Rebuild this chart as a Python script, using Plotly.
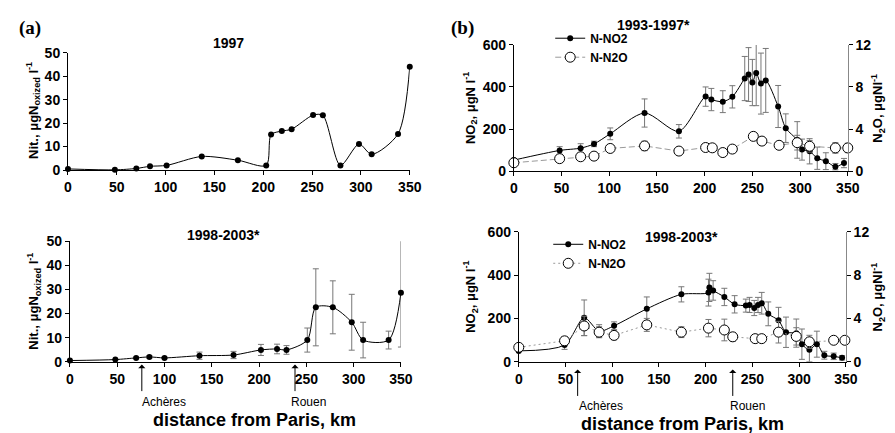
import plotly.graph_objects as go

# (a) nitrite, 1997
km_a97 = [0, 48, 70, 84, 101, 137, 174, 203, 208, 219, 229, 251, 261, 279, 298, 311, 338, 350]
nit_a97 = [0.5, 0.1, 0.7, 1.6, 2.0, 5.8, 4.2, 2.0, 15.1, 16.6, 17.4, 23.4, 23.3, 2.0, 11.1, 6.7, 15.4, 44.0]

# (a) nitrite, 1998-2003
km_a98 = [0, 48, 70, 84, 100, 137, 173, 202, 219, 229, 251, 260, 278, 298, 310, 337, 350]
nit_a98 = [0.5, 0.9, 1.6, 2.0, 1.6, 2.5, 2.8, 4.9, 5.3, 4.9, 9.0, 22.6, 22.6, 16.4, 9.0, 9.0, 28.6]
nit_a98_err = [0, 0, 0.3, 0.5, 0.3, 1.5, 1.5, 2.3, 2.0, 1.8, 5.0, 16.0, 11.0, 11.6, 7.4, 3.7, 22.5]

# (b) 1993-1997
km_no2_93 = [0, 48, 70, 84, 101, 137, 173, 201, 207, 219, 229, 242, 246, 250, 254, 259, 264,
             277, 285, 297, 302, 310, 318, 327, 337, 346]
no2_93 = [52, 98, 109, 129, 177, 276, 189, 354, 340, 330, 353, 440, 459, 421, 466, 416, 431,
          307, 204, 148, 102, 94, 61, 47, 21, 38]
no2_93_err = [0, 18, 21, 13, 28, 67, 32, 46, 53, 52, 53, 105, 128, 110, 155, 145, 152,
              100, 68, 87, 50, 60, 53, 40, 15, 22]
km_n2o_93 = [0, 48, 70, 84, 101, 137, 173, 201, 208, 219, 229, 251, 260, 278, 297, 310, 337, 350]
n2o_93 = [0.79, 1.18, 1.36, 1.42, 2.15, 2.39, 1.9, 2.24, 2.21, 1.76, 2.09, 3.3, 2.85, 2.45, 2.7, 2.36, 2.2, 2.2]
n2o_93_err = [0, 0, 0, 0, 0, 0.45, 0, 0, 0, 0, 0, 0, 0, 0.3, 0.7, 0.55, 0.5, 0.45]

# (b) 1998-2003
km_no2_98 = [0, 49, 70, 86, 102, 137, 174, 203, 204, 208, 220, 231, 243, 247, 252, 256, 260, 267,
             278, 286, 297, 303, 311, 319, 327, 337, 346]
no2_98 = [50, 77, 203, 141, 166, 244, 311, 319, 343, 329, 299, 265, 259, 262, 248, 262, 270, 221,
          191, 136, 132, 81, 55, 81, 30, 25, 18]
no2_98_err = [0, 20, 82, 30, 18, 55, 35, 62, 65, 45, 40, 40, 30, 35, 35, 35, 50, 55,
              60, 70, 65, 70, 55, 60, 18, 15, 10]
km_n2o_98 = [0, 49, 70, 86, 102, 137, 174, 203, 220, 229, 253, 260, 278, 297, 311, 337, 349]
n2o_98 = [1.33, 1.93, 3.3, 2.73, 2.43, 3.4, 2.73, 3.1, 2.93, 2.3, 2.13, 2.13, 2.73, 2.34, 1.84, 1.98, 1.98]
n2o_98_err = [0, 0.4, 0.9, 0.5, 0.4, 0.6, 0.5, 0.8, 1.0, 0.4, 0, 0, 1.0, 0.8, 0.6, 0.3, 0]

W, H = 895, 433
FONT = "Arial, Liberation Sans, sans-serif"


def px(x):
    return x / W


def py(y):
    return 1 - y / H


def err(arr, color="#777"):
    return dict(type="data", array=arr, visible=True, color=color, thickness=1, width=3)


fig = go.Figure()

# panel (a)
fig.add_trace(go.Scatter(x=km_a97, y=nit_a97, mode="lines+markers", line=dict(color="black", width=1, shape="spline", smoothing=0.8),
                         marker=dict(color="black", size=6), showlegend=False, cliponaxis=False, xaxis="x", yaxis="y"))
fig.add_trace(go.Scatter(x=km_a98, y=nit_a98, mode="lines+markers", line=dict(color="black", width=1, shape="spline", smoothing=0.8),
                         marker=dict(color="black", size=6), error_y=err(nit_a98_err), showlegend=False, cliponaxis=False,
                         xaxis="x2", yaxis="y2"))

# panel (b) top
fig.add_trace(go.Scatter(x=km_no2_93, y=no2_93, mode="lines+markers", name="N-NO2",
                         line=dict(color="black", width=1, shape="spline", smoothing=0.8),
                         marker=dict(color="black", size=6), error_y=err(no2_93_err), cliponaxis=False,
                         xaxis="x3", yaxis="y3", legend="legend"))
fig.add_trace(go.Scatter(x=km_n2o_93, y=n2o_93, mode="lines+markers", name="N-N2O",
                         line=dict(color="#999", width=1, dash="6px,3px"),
                         marker=dict(color="white", size=10, line=dict(color="black", width=1)),
                         error_y=err(n2o_93_err), cliponaxis=False, xaxis="x3", yaxis="y4", legend="legend"))

# panel (b) bottom
fig.add_trace(go.Scatter(x=km_no2_98, y=no2_98, mode="lines+markers", name="N-NO2",
                         line=dict(color="black", width=1, shape="spline", smoothing=0.8),
                         marker=dict(color="black", size=6), error_y=err(no2_98_err), cliponaxis=False,
                         xaxis="x4", yaxis="y5", legend="legend2"))
fig.add_trace(go.Scatter(x=km_n2o_98, y=n2o_98, mode="lines+markers", name="N-N2O",
                         line=dict(color="#999", width=1, dash="2px,3px"),
                         marker=dict(color="white", size=10, line=dict(color="black", width=1)),
                         error_y=err(n2o_98_err), cliponaxis=False, xaxis="x4", yaxis="y6", legend="legend2"))

tickf = dict(family=FONT, size=14, color="black", weight="bold")
xcommon = dict(range=[0, 350], tickvals=[0, 50, 100, 150, 200, 250, 300, 350], showline=True, linecolor="black",
               ticks="outside", ticklen=4, tickcolor="black", showgrid=False, zeroline=False, tickfont=tickf)
ycommon = dict(showline=True, linecolor="black", ticks="outside", ticklen=4, tickcolor="black",
               showgrid=False, zeroline=False, tickfont=tickf)

fig.update_layout(
    width=W, height=H, margin=dict(l=0, r=0, t=0, b=0),
    plot_bgcolor="white", paper_bgcolor="white",
    font=dict(family=FONT, color="black"),
    xaxis=dict(xcommon, domain=[px(57), px(405)], anchor="y"),
    yaxis=dict(ycommon, domain=[py(160), py(38)], range=[0, 50], dtick=10, anchor="x"),
    xaxis2=dict(xcommon, domain=[px(59), px(396)], anchor="y2"),
    yaxis2=dict(ycommon, domain=[py(359), py(234)], range=[0, 50], dtick=10, anchor="x2"),
    xaxis3=dict(xcommon, domain=[px(511), px(851)], anchor="y3"),
    yaxis3=dict(ycommon, domain=[py(161), py(30)], range=[0, 600], dtick=200, anchor="x3"),
    yaxis4=dict(ycommon, range=[0, 12], dtick=4, overlaying="y3", side="right", anchor="x3", linecolor="#888"),
    xaxis4=dict(xcommon, domain=[px(516), px(849)], anchor="y5"),
    yaxis5=dict(ycommon, domain=[py(359), py(224)], range=[0, 600], dtick=200, anchor="x4"),
    yaxis6=dict(ycommon, range=[0, 12], dtick=4, overlaying="y5", side="right", anchor="x4", linecolor="#888"),
    legend=dict(x=px(548), y=py(8), xanchor="left", yanchor="top", bgcolor="rgba(0,0,0,0)",
                font=dict(family=FONT, size=12, weight="bold"), tracegroupgap=0, itemwidth=30),
    legend2=dict(x=px(546), y=py(222), xanchor="left", yanchor="top", bgcolor="rgba(0,0,0,0)",
                 font=dict(family=FONT, size=12, weight="bold"), tracegroupgap=0, itemwidth=30),
)

ann = []


def label(text, x, y, size=14, bold=True, angle=0, family=FONT):
    ann.append(dict(text=text, x=px(x), y=py(y), xref="paper", yref="paper", showarrow=False, textangle=angle,
                    xanchor="center", yanchor="middle",
                    font=dict(family=family, size=size, color="black", weight="bold" if bold else "normal")))


label("(a)", 18, 12, size=19, family="Liberation Serif, Times New Roman, serif")
label("(b)", 459, 12, size=19, family="Liberation Serif, Times New Roman, serif")
label("1997", 220, 28)
label("1998-2003*", 215, 227)
label("1993-1997*", 653, 9)
label("1998-2003*", 682, 229)
label("Nit., μgN<sub>oxized</sub> l<sup>-1</sup>", 22, 98, size=13, angle=-90)
label("Nit., μgN<sub>oxized</sub> l<sup>-1</sup>", 22, 296, size=13, angle=-90)
label("NO<sub>2</sub>, μgN l<sup>-1</sup>", 467, 96, size=13, angle=-90)
label("NO<sub>2</sub>, μgN l<sup>-1</sup>", 467, 292, size=13, angle=-90)
label("N<sub>2</sub>O, μgNl<sup>-1</sup>", 882, 96, size=13, angle=-90)
label("N<sub>2</sub>O, μgNl<sup>-1</sup>", 882, 292, size=13, angle=-90)
label("distance from Paris, km", 247, 419, size=18)
label("distance from Paris, km", 683, 424, size=18)
label("Achères", 155, 401, size=12, bold=False)
label("Rouen", 302, 401, size=12, bold=False)
label("Achères", 600, 405, size=12, bold=False)
label("Rouen", 749, 405, size=12, bold=False)

# river landmarks
for xr, km, y0, y1 in [("x2", 76, 362, 390), ("x2", 238, 362, 390), ("x4", 63, 367, 395), ("x4", 229, 367, 395)]:
    ann.append(dict(x=km, y=py(y0), xref=xr, yref="paper", ax=0, ay=y1 - y0, axref="pixel", ayref="pixel",
                    showarrow=True, arrowhead=1, arrowsize=1.2, arrowwidth=1, arrowcolor="black", text=""))

fig.update_layout(annotations=ann)

fig.write_html("out.html")
